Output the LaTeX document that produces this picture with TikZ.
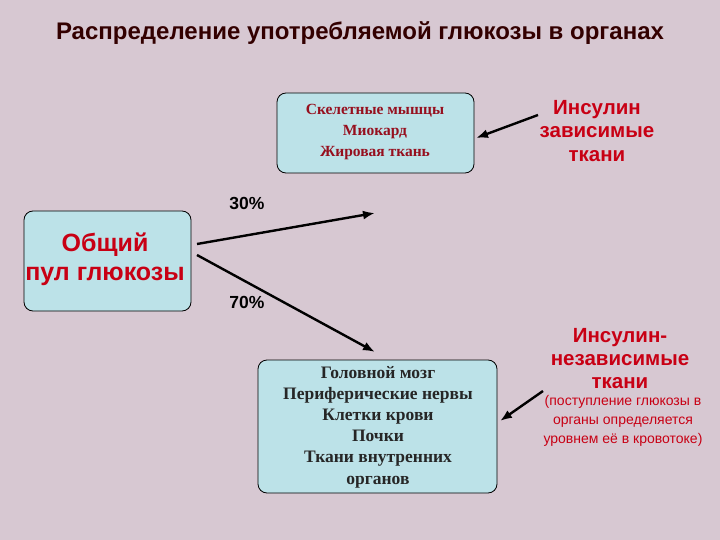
\documentclass[tikz,border=0pt]{standalone}
\usepackage{fontspec}
\usetikzlibrary{arrows.meta}
\setmainfont{Liberation Serif}
\newfontfamily\arialf{Liberation Sans}
\definecolor{bg}{RGB}{215,200,210}
\definecolor{boxc}{RGB}{188,226,232}
\definecolor{redt}{RGB}{200,0,20}
\definecolor{darkr}{RGB}{150,15,30}
\begin{document}
\begin{tikzpicture}[x=1pt,y=-1pt,
  box/.style={draw=black,fill=boxc,rounded corners=9pt,line width=0.8pt},
  arr/.style={-{Latex[length=12pt,width=9pt]},line width=2.4pt},
  sans/.style={font=\arialf,align=center}]
\fill[bg] (0,0) rectangle (720,540);
\useasboundingbox (0,0) rectangle (720,540);
\node[sans,text=black!80!red,font=\arialf\bfseries\fontsize{24}{28}\selectfont] (title) at (360,33) {Распределение употребляемой глюкозы в органах};
\draw[box] (277,93) rectangle (474,173);
\node[align=center,text=darkr,font=\bfseries\fontsize{15.5}{21}\selectfont] (top) at (375,132) {Скелетные мышцы\\Миокард\\Жировая ткань};
\coordinate (topE) at (476,138);
\draw[box] (24,211) rectangle (191,311);
\node[sans,text=redt,font=\arialf\bfseries\fontsize{25}{29}\selectfont] (pool) at (105,259) {Общий\\пул глюкозы};
\draw[box] (258,360) rectangle (497,493);
\node[align=center,text=black!85,font=\bfseries\fontsize{17.5}{21.2}\selectfont] (bot) at (378,427) {Головной мозг\\Периферические нервы\\Клетки крови\\Почки\\Ткани внутренних\\органов};
\coordinate (botE) at (500,421);
\coordinate (p1) at (197,244);
\coordinate (p2) at (197,255);
\coordinate (t1) at (375,213);
\coordinate (t2) at (375,352);
\draw[arr] (p1) -- (t1);
\draw[arr] (p2) -- (t2);
\node[sans,font=\arialf\bfseries\fontsize{17.5}{18}\selectfont] (l30) at (247,203) {30\%};
\node[sans,font=\arialf\bfseries\fontsize{17.5}{18}\selectfont] (l70) at (247,302) {70\%};
\node[sans,text=redt,font=\arialf\bfseries\fontsize{20.5}{23.5}\selectfont] (ins) at (597,131) {Инсулин\\зависимые\\ткани};
\node[sans,text=redt,font=\arialf\bfseries\fontsize{20.5}{23}\selectfont] (nins) at (620,359) {Инсулин-\\независимые\\ткани};
\node[sans,text=redt,font=\arialf\fontsize{14}{19}\selectfont] (note) at (623,421) {(поступление глюкозы в\\органы определяется\\уровнем её в кровотоке)};
\coordinate (a1) at (538,115);
\coordinate (a2) at (543,391);
\draw[arr] (a1) -- (topE);
\draw[arr] (a2) -- (botE);
\end{tikzpicture}
\end{document}
